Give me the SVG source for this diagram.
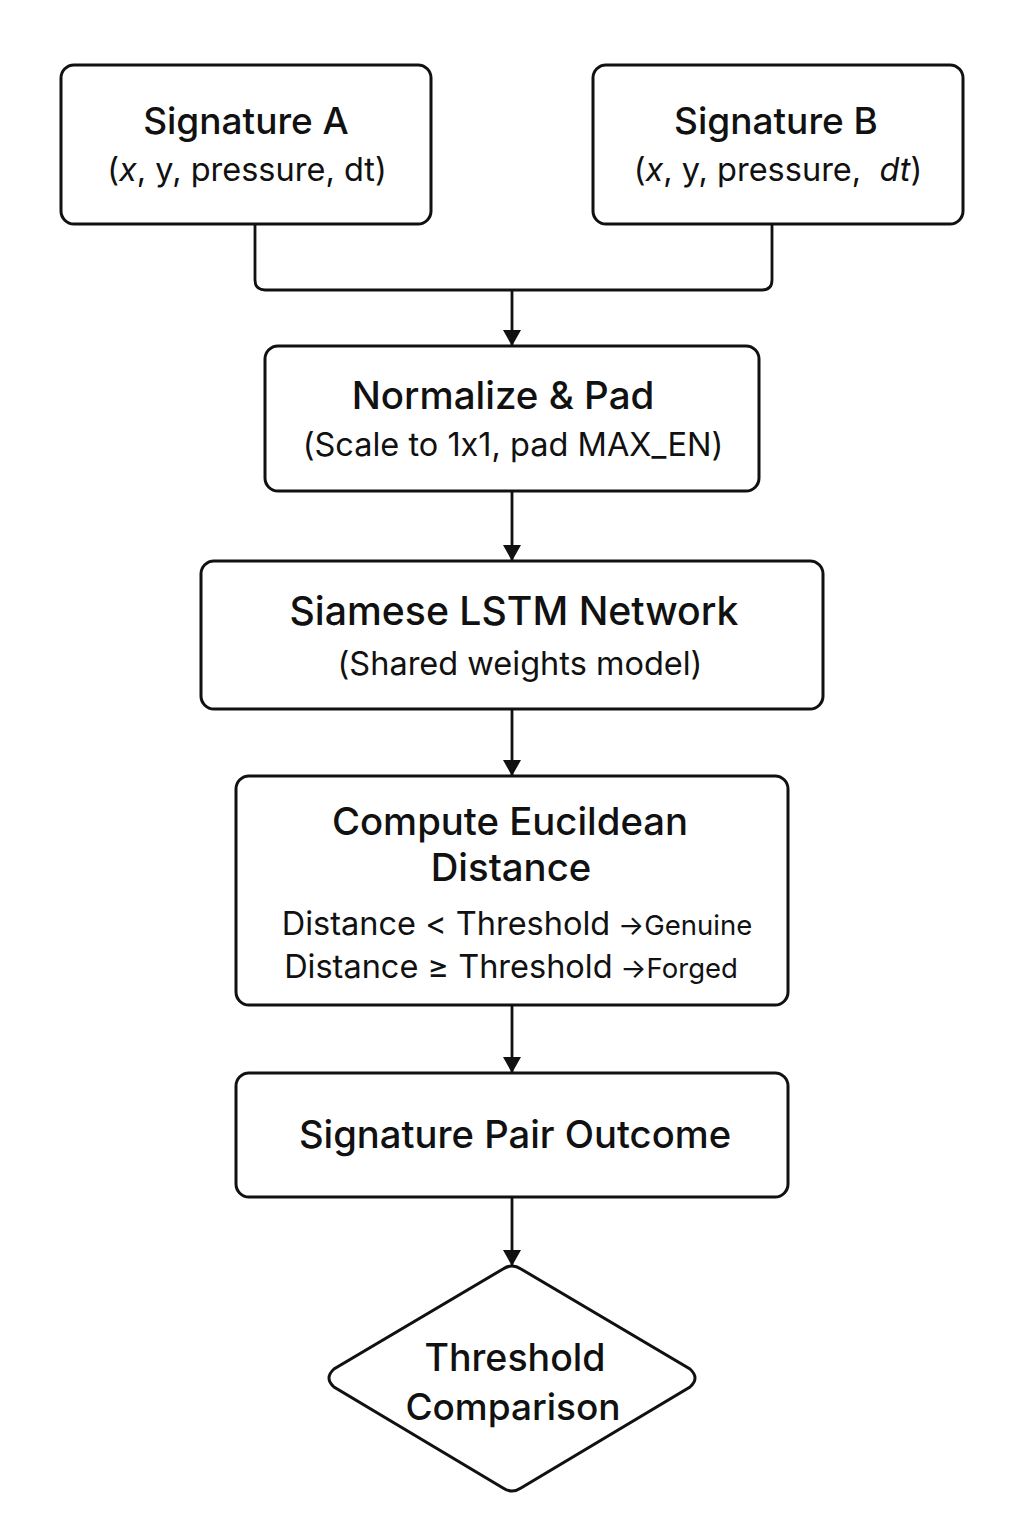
<svg xmlns="http://www.w3.org/2000/svg" width="1024" height="1536" viewBox="0 0 1024 1536">
<style>
.box{fill:#fff;stroke:#111;stroke-width:3}
.t{font-family:Inter,"Noto Sans",sans-serif;fill:#111;text-anchor:middle;font-feature-settings:"calt" 0}
.h{font-size:37px;font-weight:500}
.s{font-size:32.5px}
.c{fill:none;stroke:#111;stroke-width:2.8}
</style>
<defs>
<marker id="ah" viewBox="0 0 16 18" refX="15" refY="9" markerWidth="16" markerHeight="18" markerUnits="userSpaceOnUse" orient="auto">
<path d="M0,0 L16,9 L0,18 Z" fill="#111"/>
</marker>
</defs>
<rect width="1024" height="1536" fill="#fff"/>
<g id="connectors">
<path class="c" d="M255,224 V280 Q255,290 265,290 H762 Q772,290 772,280 V224"/>
<path class="c" d="M512,290 V345" marker-end="url(#ah)"/>
<path class="c" d="M512,491 V560" marker-end="url(#ah)"/>
<path class="c" d="M512,709 V775" marker-end="url(#ah)"/>
<path class="c" d="M512,1005 V1072" marker-end="url(#ah)"/>
<path class="c" d="M512,1197 V1265" marker-end="url(#ah)"/>
</g>
<g id="sigA">
<rect class="box" x="61" y="65" width="370" height="159" rx="13"/>
<text class="t h" x="246" y="134">Signature A</text>
<text class="t s" x="247" y="181">(<tspan font-style="italic">x</tspan>, y, pressure, dt)</text>
</g>
<g id="sigB">
<rect class="box" x="593" y="65" width="370" height="159" rx="13"/>
<text class="t h" x="776" y="134">Signature B</text>
<text class="t s" x="778" y="181">(<tspan font-style="italic">x</tspan>, y, pressure,&#160; <tspan font-style="italic">dt</tspan>)</text>
</g>
<g id="normalize">
<rect class="box" x="265" y="346" width="494" height="145" rx="13"/>
<text class="t h" x="503" y="409" style="font-size:38.5px">Normalize &amp; Pad</text>
<text class="t s" x="513" y="456">(Scale to 1x1, pad MAX_EN)</text>
</g>
<g id="siamese">
<rect class="box" x="201" y="561" width="622" height="148" rx="13"/>
<text class="t h" x="514" y="625" style="font-size:39.2px">Siamese LSTM Network</text>
<text class="t s" x="520" y="675">(Shared weights model)</text>
</g>
<g id="distance">
<rect class="box" x="236" y="776" width="552" height="229" rx="13"/>
<text class="t h" x="510" y="835" style="font-size:38.3px">Compute Eucildean</text>
<text class="t h" x="511" y="881" style="font-size:38.3px">Distance</text>
<text class="t s" x="517" y="935">Distance &lt; Threshold<tspan font-size="27.5"> →Genuine</tspan></text>
<text class="t s" x="511" y="978">Distance ≥ Threshold<tspan font-size="27.5"> →Forged</tspan></text>
</g>
<g id="outcome">
<rect class="box" x="236" y="1073" width="552" height="124" rx="13"/>
<text class="t h" x="515" y="1148" style="font-size:38.2px">Signature Pair Outcome</text>
</g>
<g id="threshold">
<path class="box" d="M503,1269 Q512,1263 521,1269 L690,1369 Q700,1378 690,1387 L521,1488 Q512,1494 503,1488 L334,1387 Q324,1378 334,1369 Z"/>
<text class="t h" x="515" y="1371" style="font-size:37.5px">Threshold</text>
<text class="t h" x="513" y="1420">Comparison</text>
</g>
</svg>
